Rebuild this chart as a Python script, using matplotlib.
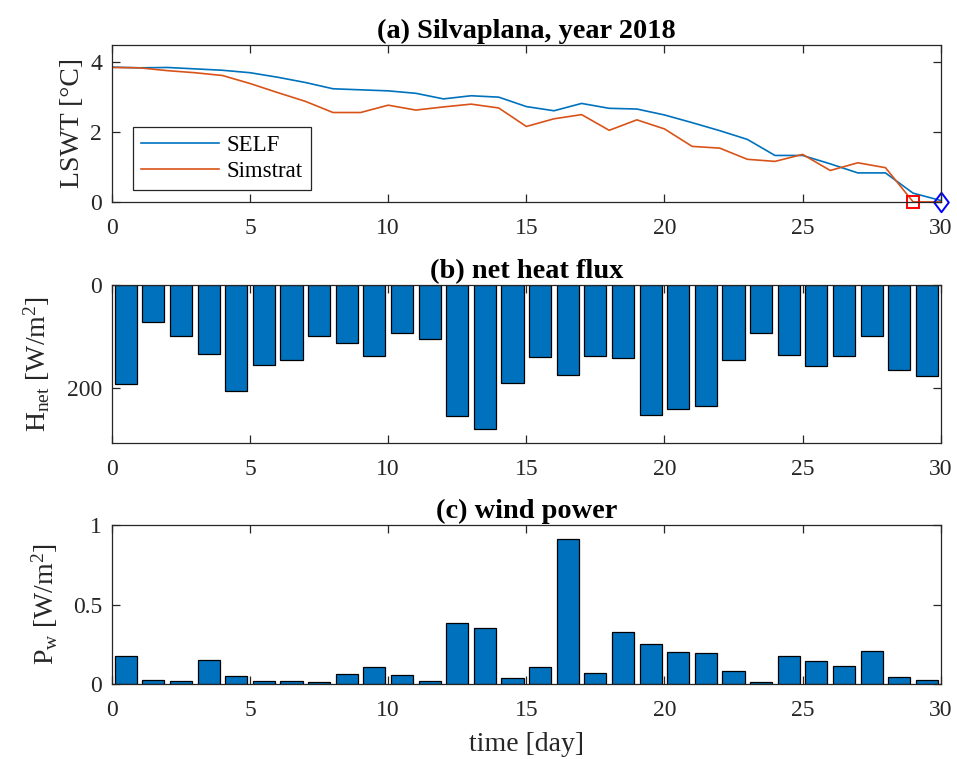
import numpy as np
import matplotlib
matplotlib.use("Agg")
import matplotlib.pyplot as plt
from matplotlib.path import Path

plt.rcParams["font.family"] = ["Liberation Serif", "DejaVu Serif"]
plt.rcParams["mathtext.fontset"] = "custom"
plt.rcParams["mathtext.rm"] = "Liberation Serif"
plt.rcParams["mathtext.it"] = "Liberation Serif"
plt.rcParams["font.size"] = 17

# lake surface water temperature (degC), daily
days = np.arange(0, 31)
lswt_self = [3.86, 3.84, 3.85, 3.81, 3.77, 3.70, 3.57, 3.42, 3.24, 3.21,
             3.18, 3.11, 2.95, 3.04, 3.00, 2.73, 2.61, 2.82, 2.68, 2.66,
             2.49, 2.27, 2.04, 1.79, 1.33, 1.33, 1.09, 0.83, 0.83, 0.25,
             0.04]
lswt_simstrat = [3.85, 3.84, 3.76, 3.70, 3.62, 3.39, 3.13, 2.88, 2.56, 2.56,
                 2.77, 2.63, 2.72, 2.80, 2.69, 2.16, 2.38, 2.50, 2.05, 2.35,
                 2.09, 1.59, 1.54, 1.22, 1.16, 1.36, 0.90, 1.12, 0.98, 0.0,
                 0.0]
freeze_simstrat = (29, 0.0)
freeze_self = (30, 0.0)

# daily means, plotted at mid-day
bar_days = np.arange(30) + 0.5
h_net = [193, 71, 99, 134, 207, 156, 146, 99, 113, 139,
         94, 104, 255, 281, 192, 140, 175, 139, 142, 254,
         241, 236, 147, 94, 136, 157, 139, 99, 166, 177]
p_wind = [0.173, 0.027, 0.015, 0.152, 0.049, 0.019, 0.015, 0.011, 0.065, 0.108,
          0.055, 0.021, 0.384, 0.354, 0.040, 0.104, 0.911, 0.070, 0.325, 0.251,
          0.198, 0.194, 0.080, 0.013, 0.175, 0.146, 0.110, 0.207, 0.044, 0.025]

blue = "#0072BD"
orange = "#D95319"
axis_col = "#262626"

# MATLAB-like diamond, a bit taller than wide
diamond = Path([(0, 1), (0.75, 0), (0, -1), (-0.75, 0), (0, 1)],
               [Path.MOVETO, Path.LINETO, Path.LINETO, Path.LINETO, Path.CLOSEPOLY])

fig = plt.figure(figsize=(9.57, 7.59), dpi=100)
ax1 = fig.add_axes([0.117, 0.734, 0.866, 0.207])
ax2 = fig.add_axes([0.117, 0.416, 0.866, 0.208])
ax3 = fig.add_axes([0.117, 0.099, 0.866, 0.209])


def style(ax):
    ax.tick_params(direction="in", top=True, right=True, length=6,
                   color=axis_col, labelcolor=axis_col, width=0.9)
    ax.tick_params(axis="x", pad=11.5)
    ax.tick_params(axis="y", pad=7)
    for s in ax.spines.values():
        s.set_color(axis_col)
        s.set_linewidth(0.9)
    ax.set_xlim(0, 30)
    ax.set_xticks(np.arange(0, 31, 5))


ax1.plot(days, lswt_self, color=blue, lw=1.2, label="SELF")
ax1.plot(days, lswt_simstrat, color=orange, lw=1.2, label="Simstrat")
ax1.plot(*freeze_simstrat, marker="s", ms=8.5, mfc="none", mec="red", mew=1.4,
         clip_on=False)
ax1.plot(*freeze_self, marker=diamond, ms=14, mfc="none", mec="blue", mew=1.4,
         clip_on=False)
ax1.set_ylim(0, 4.5)
ax1.set_yticks([0, 2, 4])
ax1.set_ylabel("LSWT [°C]", color=axis_col, fontsize=20)
ax1.set_title("(a) Silvaplana, year 2018", fontweight="bold", pad=5)
leg = ax1.legend(loc="lower left", bbox_to_anchor=(0.025, 0.076), fancybox=False,
                 framealpha=1, edgecolor=axis_col, handlelength=3.4,
                 handletextpad=0.35, borderaxespad=0, borderpad=0.35,
                 labelspacing=0.2, fontsize=16.5)
leg.get_frame().set_linewidth(0.9)
style(ax1)

ax2.bar(bar_days, h_net, width=0.8, color=blue, edgecolor="black", linewidth=0.9)
ax2.set_ylim(309, 0)
ax2.set_yticks([0, 200])
ax2.set_ylabel(r"H$_{\rm net}$ [W/m$^2$]", color=axis_col, fontsize=20)
ax2.set_title("(b) net heat flux", fontweight="bold", pad=5)
style(ax2)

ax3.bar(bar_days, p_wind, width=0.8, color=blue, edgecolor="black", linewidth=0.9)
ax3.set_ylim(0, 1)
ax3.set_yticks([0, 0.5, 1])
ax3.set_yticklabels(["0", "0.5", "1"])
ax3.set_ylabel(r"P$_{\rm w}$ [W/m$^2$]", color=axis_col, fontsize=20)
ax3.set_xlabel("time [day]", color=axis_col, fontsize=20, labelpad=8)
ax3.set_title("(c) wind power", fontweight="bold", pad=5)
style(ax3)

ax1.yaxis.set_label_coords(-0.033, 0.5)
ax2.yaxis.set_label_coords(-0.072, 0.5)
ax3.yaxis.set_label_coords(-0.063, 0.5)

fig.savefig("out.png", dpi=100)
